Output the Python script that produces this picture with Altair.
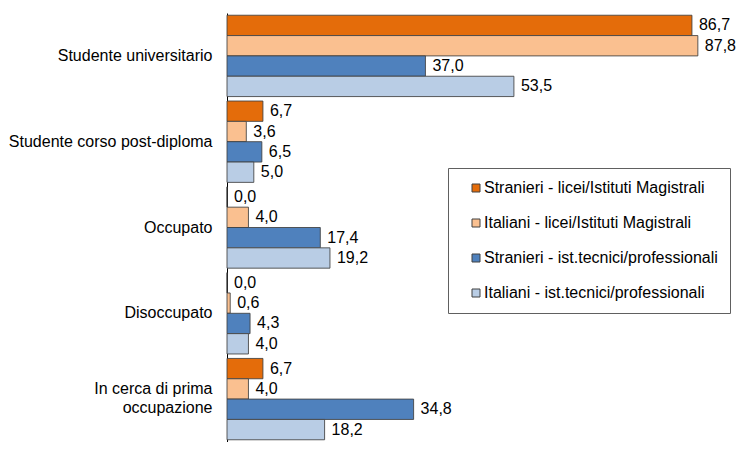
import altair as alt
import pandas as pd

categories = [
    "Studente universitario",
    "Studente corso post-diploma",
    "Occupato",
    "Disoccupato",
    "In cerca di prima occupazione",
]
series = [
    "Stranieri - licei/Istituti Magistrali",
    "Italiani - licei/Istituti Magistrali",
    "Stranieri - ist.tecnici/professionali",
    "Italiani - ist.tecnici/professionali",
]
stranieri_licei = [86.7, 6.7, 0.0, 0.0, 6.7]
italiani_licei = [87.8, 3.6, 4.0, 0.6, 4.0]
stranieri_tecnici = [37.0, 6.5, 17.4, 4.3, 34.8]
italiani_tecnici = [53.5, 5.0, 19.2, 4.0, 18.2]
colors = ["#E46C0A", "#FAC090", "#4F81BD", "#B9CDE5"]

rows = []
for s, vals in zip(series, [stranieri_licei, italiani_licei, stranieri_tecnici, italiani_tecnici]):
    for c, v in zip(categories, vals):
        rows.append({"cat": c, "serie": s, "v": v})
df = pd.DataFrame(rows)

y_enc = alt.Y(
    "cat:N",
    sort=categories,
    scale=alt.Scale(paddingInner=0.052, paddingOuter=0.026),
    axis=alt.Axis(
        title=None,
        ticks=False,
        grid=False,
        domainColor="#000000",
        labelColor="#000000",
        labelFontSize=16,
        labelPadding=15,
        labelLimit=400,
        labelLineHeight=19,
        labelOffset=alt.condition("datum.value == 'In cerca di prima occupazione'", alt.value(-10), alt.value(0)),
        labelExpr="datum.label == 'In cerca di prima occupazione' ? ['In cerca di prima', 'occupazione\u00a0\u00a0\u00a0'] : datum.label",
    ),
)
x_enc = alt.X("v:Q", scale=alt.Scale(domain=[0, 95.1], nice=False), axis=None)
yoff = alt.YOffset("serie:N", sort=series)

base = alt.Chart(df)

bars = base.mark_bar(stroke="#404040", strokeWidth=1, strokeOpacity=0.85).encode(
    y=y_enc,
    x=x_enc,
    yOffset=yoff,
    color=alt.Color(
        "serie:N",
        sort=series,
        scale=alt.Scale(domain=series, range=colors),
        legend=alt.Legend(
            title=None,
            orient="none",
            legendX=221,
            legendY=155,
            padding=12,
            symbolOffset=8,
            symbolType="square",
            symbolSize=64,
            symbolStrokeColor="#404040",
            symbolStrokeWidth=1,
            labelFontSize=16,
            labelColor="#000000",
            labelOffset=0,
            labelLimit=400,
            rowPadding=19,
            strokeColor="#606060",
            fillColor="#FFFFFF",
            labelExpr="datum.label + '\u00a0\u00a0\u00a0'",
        ),
    ),
)

labels = base.mark_text(align="left", baseline="middle", dx=7, fontSize=16, color="#000000").transform_calculate(
    lab="replace(format(datum.v, '.1f'), '.', ',')"
).encode(
    y=alt.Y("cat:N", sort=categories),
    x=alt.X("v:Q"),
    yOffset=yoff,
    text="lab:N",
)

chart = (
    alt.layer(bars, labels)
    .properties(
        width=510,
        height=429,
        autosize=alt.AutoSizeParams(type="none"),
        padding={"left": 219, "top": 5, "right": 0, "bottom": 0},
    )
    .configure(font="Liberation Sans")
    .configure_view(stroke=None)
)

chart.save("out.html", embed_options={"renderer": "svg", "actions": False})
